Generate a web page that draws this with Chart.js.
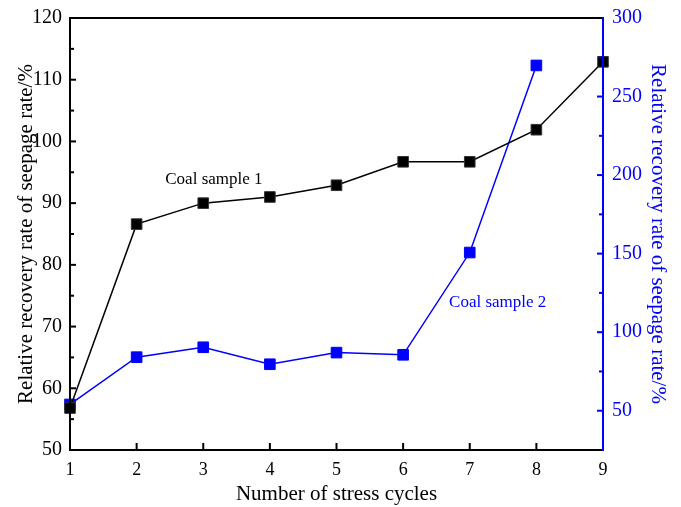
<!DOCTYPE html>
<html>
<head>
<meta charset="utf-8">
<title>Seepage rate recovery</title>
<script src="https://cdn.jsdelivr.net/npm/chart.js@4/dist/chart.umd.min.js"></script>
<style>
  html, body { margin: 0; padding: 0; background: #fff; }
  #wrap { width: 681px; height: 507px; }
</style>
</head>
<body>
<div id="wrap"><canvas id="seepChart" width="681" height="507"></canvas></div>
<script>
// ciclos de carga
const cycles = [1, 2, 3, 4, 5, 6, 7, 8, 9];
// muestra 1 (eje izquierdo) y muestra 2 (eje derecho)
const sample1 = [56.8, 86.6, 90.0, 91.0, 92.9, 96.7, 96.7, 101.9, 112.9];
const sample2 = [54.0, 84.1, 90.4, 79.6, 87.0, 85.6, 150.7, 269.8];

const leftMajor = [50, 60, 70, 80, 90, 100, 110, 120];
const rightMajor = [50, 100, 150, 200, 250, 300];

const BLUE = '#0000ff';
const FONT = "'Liberation Serif', 'Times New Roman', serif";

function toPoints(values) {
    return values.map((v, i) => ({ x: cycles[i], y: v }));
}

// ancho fijo para los ejes verticales, sin relleno extra arriba/abajo
function fixWidth(w) {
    return s => { s.width = w; s.paddingTop = 0; s.paddingBottom = 0; };
}

// marco y marcas hacia adentro
const framePlugin = {
    id: 'frame',
    afterDraw(chart) {
        const ctx = chart.ctx;
        const a = chart.chartArea;
        const x = chart.scales.x, yl = chart.scales.y, yr = chart.scales.y2;
        ctx.save();
        ctx.lineWidth = 2;
        ctx.strokeStyle = '#000';
        ctx.beginPath();
        ctx.moveTo(a.right, a.top); ctx.lineTo(a.left, a.top);
        ctx.lineTo(a.left, a.bottom); ctx.lineTo(a.right, a.bottom);
        ctx.stroke();

        // eje inferior
        cycles.forEach(c => {
            const px = x.getPixelForValue(c);
            ctx.beginPath(); ctx.moveTo(px, a.bottom); ctx.lineTo(px, a.bottom - 7); ctx.stroke();
        });
        // eje izquierdo
        for (let v = 55; v < 120; v += 5) {
            const py = yl.getPixelForValue(v);
            const len = v % 10 === 0 ? 6 : 4;
            ctx.beginPath(); ctx.moveTo(a.left, py); ctx.lineTo(a.left + len, py); ctx.stroke();
        }
        // eje derecho en azul
        ctx.strokeStyle = BLUE;
        ctx.beginPath(); ctx.moveTo(a.right, a.top - 1); ctx.lineTo(a.right, a.bottom + 1); ctx.stroke();
        for (let v = 50; v < 300; v += 25) {
            const py = yr.getPixelForValue(v);
            const len = v % 50 === 0 ? 6 : 4;
            ctx.beginPath(); ctx.moveTo(a.right, py); ctx.lineTo(a.right - len, py); ctx.stroke();
        }

        // rótulos de las series
        ctx.font = '17px ' + FONT;
        ctx.textBaseline = 'middle';
        ctx.fillStyle = '#000';
        ctx.fillText('Coal sample 1', x.getPixelForValue(2.43), yl.getPixelForValue(93.9));
        ctx.fillStyle = BLUE;
        ctx.fillText('Coal sample 2', x.getPixelForValue(6.69), yr.getPixelForValue(118.7));
        ctx.restore();
    }
};

new Chart(document.getElementById('seepChart'), {
    type: 'line',
    data: {
        datasets: [
            {
                label: 'Coal sample 1',
                data: toPoints(sample1),
                yAxisID: 'y',
                borderColor: '#000',
                backgroundColor: '#000',
                borderWidth: 1.5,
                pointStyle: 'rect',
                pointRadius: 7.5,
                pointBorderWidth: 1,
                pointBorderColor: '#333',
                tension: 0,
                clip: false
            },
            {
                label: 'Coal sample 2',
                data: toPoints(sample2),
                yAxisID: 'y2',
                borderColor: BLUE,
                backgroundColor: BLUE,
                borderWidth: 1.5,
                pointStyle: 'rect',
                pointRadius: 7.5,
                pointBorderWidth: 1,
                pointBorderColor: BLUE,
                tension: 0,
                clip: false
            }
        ]
    },
    options: {
        responsive: false,
        animation: false,
        layout: { padding: { top: 18, left: 0, right: 0, bottom: 0 } },
        plugins: {
            legend: { display: false },
            tooltip: { enabled: false }
        },
        scales: {
            x: {
                type: 'linear',
                min: 1, max: 9,
                grid: { display: false, drawTicks: false },
                border: { display: false },
                afterFit: s => { s.height = 57; s.paddingLeft = 0; s.paddingRight = 0; },
                afterBuildTicks: s => { s.ticks = cycles.map(v => ({ value: v })); },
                ticks: { color: '#000', padding: 9, font: { family: FONT, size: 18 } },
                title: {
                    display: true, text: 'Number of stress cycles', color: '#000',
                    font: { family: FONT, size: 21 }, padding: { top: 1, bottom: 0 }
                }
            },
            y: {
                position: 'left',
                min: 50, max: 120,
                grid: { display: false, drawTicks: false },
                border: { display: false },
                afterFit: fixWidth(70),
                afterBuildTicks: s => { s.ticks = leftMajor.map(v => ({ value: v })); },
                ticks: { color: '#000', padding: 8, font: { family: FONT, size: 20 } },
                title: {
                    display: true, text: 'Relative recovery rate of seepage rate/%', color: '#000',
                    font: { family: FONT, size: 21 }, padding: { top: 14, bottom: 0 }
                }
            },
            y2: {
                position: 'right',
                min: 25, max: 300,
                grid: { display: false, drawTicks: false },
                border: { display: false },
                afterFit: fixWidth(78),
                afterBuildTicks: s => { s.ticks = rightMajor.map(v => ({ value: v })); },
                ticks: { color: BLUE, padding: 9, font: { family: FONT, size: 20 } },
                title: {
                    display: true, text: 'Relative recovery rate of seepage rate/%', color: BLUE,
                    font: { family: FONT, size: 21 }, padding: { top: 11, bottom: 0 }
                }
            }
        }
    },
    plugins: [framePlugin]
});
</script>
</body>
</html>
